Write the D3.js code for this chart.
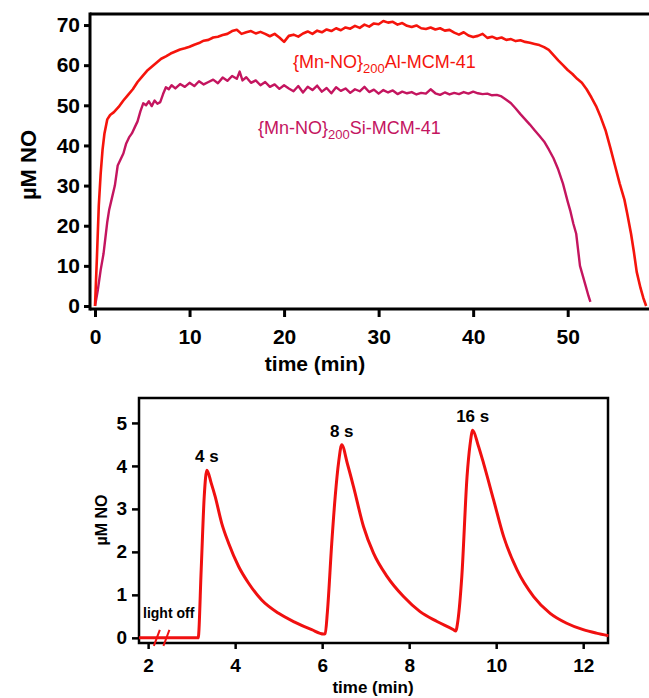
<!DOCTYPE html>
<html>
<head>
<meta charset="utf-8">
<script src="https://cdn.jsdelivr.net/npm/d3@7"></script>
<style>
  body { margin: 0; background: #fff; }
  svg { display: block; font-family: "Liberation Sans", Arial, sans-serif; }
</style>
</head>
<body>
<div id="chart"></div>
<script>
// top panel: NO release of the two materials (time in min, µM NO)
const alSeries = [
  [0,0],[0.2,12],[0.4,25],[0.6,33],[0.8,39],[1.0,43],[1.3,46.5],[1.6,47.6],[2.0,48.3],[2.5,49.6],
  [3.0,51.2],[3.5,52.6],[4.0,54.0],[4.5,55.8],[5.0,57.2],[5.5,58.6],[6.0,59.6],[6.5,60.6],[7.0,61.6],[7.5,62.2],
  [8.0,62.9],[8.5,63.4],[9.0,63.9],[9.5,64.2],[10,64.6],[10.5,65.1],[11,65.5],[11.5,66.1],[12,66.3],[12.5,66.9],
  [13,67.1],[13.5,67.5],[14,67.8],[14.5,68.5],[15,68.8],[15.5,67.8],[16,68.2],[16.5,68.5],[17,67.9],[17.5,68.3],
  [18,67.8],[18.5,67.2],[19,67.8],[19.5,66.9],[20,65.8],[20.5,67.3],[21,67.6],[21.5,67.1],[22,67.9],[22.5,68.4],
  [23,67.8],[23.5,68.6],[24,68.2],[24.5,68.9],[25,68.5],[25.5,69.2],[26,68.7],[26.5,69.4],[27,69.1],[27.5,69.8],
  [28,69.3],[28.5,70.1],[29,69.6],[29.5,70.4],[30,70.2],[30.5,71.0],[31,70.6],[31.5,70.8],[32,70.1],[32.5,70.5],
  [33,69.8],[33.5,69.5],[34,69.9],[34.5,69.2],[35,69.0],[35.5,69.4],[36,68.9],[36.5,69.2],[37,68.6],[37.5,68.8],
  [38,68.1],[38.5,67.6],[39,68.2],[39.5,67.4],[40,67.0],[40.5,67.3],[41,67.8],[41.5,66.8],[42,67.1],[42.5,66.6],
  [43,66.9],[43.5,66.3],[44,66.5],[44.5,66.0],[45,66.2],[45.5,65.8],[46,65.6],[46.5,65.3],[47,65.0],[47.5,64.5],
  [48,63.8],[48.5,62.5],[49,61.2],[49.5,60.0],[50,58.8],[50.5,57.8],[51,56.6],[51.5,55.6],[52,54.0],[52.5,52.0],
  [53,49.8],[53.5,47.0],[54,43.8],[54.5,39.5],[55,35.0],[55.5,30.5],[56,26.5],[56.3,23.0],[56.7,18.0],[57,13.5],
  [57.3,8.5],[57.7,4.5],[58.0,2.0],[58.3,0]
];
const siSeries = [
  [0,0],[0.3,4],[0.6,9],[0.9,13],[1.1,17],[1.3,21],[1.5,24],[1.8,27],[2.1,30],[2.4,35],
  [2.7,36.5],[3.0,38],[3.3,40.5],[3.6,42],[3.9,43],[4.2,44.5],[4.5,46],[4.8,48.5],[5.1,50.5],[5.4,50],
  [5.7,51],[6.0,49.8],[6.3,51.2],[6.6,50.4],[6.9,50.8],[7.2,52.8],[7.5,54.5],[7.8,54.0],[8.1,55.0],[8.5,54.2],
  [9.0,55.3],[9.5,54.6],[10,55.6],[10.5,54.8],[11,56.0],[11.5,55.2],[12,55.8],[12.5,56.4],[13,55.5],[13.5,56.9],
  [14,56.1],[14.5,57.3],[15,56.6],[15.3,58.4],[15.6,56.2],[16,57.0],[16.5,55.6],[17,56.2],[17.5,55.0],[18,55.8],
  [18.5,54.6],[19,55.2],[19.5,54.1],[20,55.0],[20.5,54.2],[21,53.5],[21.5,54.8],[22,53.2],[22.5,54.6],[23,53.8],
  [23.5,54.9],[24,53.4],[24.5,54.3],[25,53.0],[25.5,54.5],[26,53.6],[26.5,54.2],[27,53.1],[27.5,54.0],[28,53.5],
  [28.5,54.6],[29,53.3],[29.5,53.9],[30,52.9],[30.5,53.8],[31,53.2],[31.5,53.7],[32,52.8],[32.5,53.4],[33,53.0],
  [33.5,53.3],[34,52.7],[34.5,53.1],[35,52.9],[35.5,54.0],[36,53.0],[36.5,52.6],[37,53.2],[37.5,52.7],[38,53.1],
  [38.5,52.8],[39,53.3],[39.5,52.9],[40,53.4],[40.5,53.0],[41,52.8],[41.5,52.9],[42,52.5],[42.5,52.6],[43,52.2],
  [43.5,51.4],[44,50.5],[44.5,49.2],[45,47.8],[45.5,46.5],[46,45.2],[46.5,43.8],[47,42.4],[47.5,41.0],[48,39.0],
  [48.5,36.8],[49,34.0],[49.5,30.5],[50,26.0],[50.3,23.5],[50.6,20.5],[50.9,18.0],[51.1,14.0],[51.3,10.0],[51.6,7.5],
  [51.9,5.0],[52.2,2.5],[52.4,1.0]
];
const topXTicks = [0, 10, 20, 30, 40, 50];
const topYTicks = [0, 10, 20, 30, 40, 50, 60, 70];
const seriesLabels = [
  { name: "Al", pre: "{Mn-NO}", sub: "200", post: "Al-MCM-41", color: "#f5140c" },
  { name: "Si", pre: "{Mn-NO}", sub: "200", post: "Si-MCM-41", color: "#c4155f" }
];

// bottom panel: light pulses
const pulseSeries = [
  [1.79,0],[3.15,0],[3.22,1.6],[3.29,3.3],[3.35,3.9],[3.45,3.6],[3.54,3.29],[3.69,2.67],[3.85,2.2],[4.08,1.66],
  [4.31,1.27],[4.61,0.88],[5.0,0.57],[5.38,0.36],[5.76,0.19],[6.03,0.09],[6.07,0.1],[6.12,0.6],[6.22,2.2],[6.30,3.29],
  [6.38,4.1],[6.45,4.49],[6.58,4.05],[6.72,3.52],[6.95,2.59],[7.18,1.97],[7.49,1.43],[7.87,0.96],[8.25,0.61],[8.64,0.38],
  [9.02,0.19],[9.07,0.16],[9.12,0.4],[9.21,1.43],[9.33,3.75],[9.40,4.5],[9.46,4.83],[9.58,4.5],[9.71,4.06],[9.94,3.21],
  [10.17,2.36],[10.48,1.58],[10.86,0.96],[11.24,0.57],[11.62,0.34],[12.0,0.19],[12.3,0.11],[12.58,0.05]
];
const pulseLabels = [
  { t: 3.35, v: 3.9, text: "4 s" },
  { t: 6.45, v: 4.49, text: "8 s" },
  { t: 9.46, v: 4.83, text: "16 s" }
];
const breakMarks = [2.2, 2.42];
const botXTicks = [2, 4, 6, 8, 10, 12];
const botYTicks = [0, 1, 2, 3, 4, 5];

const W = 649, H = 698;
const svg = d3.select("#chart").append("svg")
  .attr("width", W)
  .attr("height", H);

// ---------- top panel ----------
const box1 = { left: 90, right: 649, top: 14, bottom: 309 };
const x1 = d3.scaleLinear().domain([-0.53, 58.6]).range([box1.left, box1.right]);
const y1 = d3.scaleLinear().domain([-0.75, 72.75]).range([box1.bottom, box1.top]);

const line1 = d3.line().x(d => x1(d[0])).y(d => y1(d[1]));

const g1 = svg.append("g");
g1.append("path")
  .datum(siSeries)
  .attr("fill", "none")
  .attr("stroke", seriesLabels[1].color)
  .attr("stroke-width", 2.4)
  .attr("stroke-linejoin", "round")
  .attr("d", line1);
g1.append("path")
  .datum(alSeries)
  .attr("fill", "none")
  .attr("stroke", seriesLabels[0].color)
  .attr("stroke-width", 2.6)
  .attr("stroke-linejoin", "round")
  .attr("d", line1);

// top border (plot is cut at the right edge)
g1.append("line")
  .attr("x1", box1.left).attr("x2", box1.right)
  .attr("y1", box1.top).attr("y2", box1.top)
  .attr("stroke", "#000").attr("stroke-width", 3);

const xAxis1 = g1.append("g")
  .attr("transform", "translate(0," + box1.bottom + ")")
  .call(d3.axisBottom(x1).tickValues(topXTicks).tickSize(8).tickPadding(12).tickSizeOuter(0));
const yAxis1 = g1.append("g")
  .attr("transform", "translate(" + box1.left + ",0)")
  .call(d3.axisLeft(y1).tickValues(topYTicks).tickSize(6).tickPadding(4).tickSizeOuter(0));

[xAxis1, yAxis1].forEach(a => {
  a.select(".domain").attr("stroke", "#000").attr("stroke-width", 3);
  a.selectAll(".tick line").attr("stroke", "#000").attr("stroke-width", 3);
  a.selectAll(".tick text")
    .attr("fill", "#000")
    .style("font-size", "21px")
    .style("font-weight", "bold");
});
xAxis1.select(".domain").attr("d", "M" + box1.left + ",0H" + box1.right);
yAxis1.select(".domain").attr("d", "M0," + (box1.top - 1.5) + "V" + (box1.bottom + 1.5));

g1.append("text")
  .attr("x", 315).attr("y", 371)
  .attr("text-anchor", "middle")
  .style("font-size", "21px").style("font-weight", "bold")
  .text("time (min)");
g1.append("text")
  .attr("transform", "translate(36,165) rotate(-90)")
  .attr("text-anchor", "middle")
  .style("font-size", "22px").style("font-weight", "bold")
  .text("µM NO");

// series labels
const labelPos = [[293, 68], [258, 134]];
seriesLabels.forEach((s, i) => {
  const t = g1.append("text")
    .attr("x", labelPos[i][0]).attr("y", labelPos[i][1])
    .attr("fill", s.color)
    .style("font-size", "18px");
  t.append("tspan").text(s.pre);
  t.append("tspan").attr("dy", 5).style("font-size", "13px").text(s.sub);
  t.append("tspan").attr("dy", -5).text(s.post);
});

// ---------- bottom panel ----------
const box2 = { left: 139, right: 608, top: 398, bottom: 643 };
const x2 = d3.scaleLinear().domain([1.79, 12.57]).range([box2.left, box2.right]);
const y2 = d3.scaleLinear().domain([-0.12, 5.58]).range([box2.bottom, box2.top]);

const g2 = svg.append("g");
g2.append("rect")
  .attr("x", box2.left).attr("y", box2.top)
  .attr("width", box2.right - box2.left).attr("height", box2.bottom - box2.top)
  .attr("fill", "none").attr("stroke", "#000").attr("stroke-width", 2.5);

g2.append("path")
  .datum(pulseSeries)
  .attr("fill", "none")
  .attr("stroke", "#f01010")
  .attr("stroke-width", 3)
  .attr("stroke-linejoin", "round")
  .attr("d", d3.line().x(d => x2(d[0])).y(d => y2(d[1])).curve(d3.curveMonotoneX));

// break marks on the baseline
breakMarks.forEach(t => {
  g2.append("line")
    .attr("x1", x2(t) - 3).attr("y1", y2(0) + 8)
    .attr("x2", x2(t) + 3).attr("y2", y2(0) - 8)
    .attr("stroke", "#f01010").attr("stroke-width", 2);
});
g2.append("text")
  .attr("x", 143).attr("y", 618)
  .style("font-size", "14px").style("font-weight", "bold")
  .text("light off");

pulseLabels.forEach(p => {
  g2.append("text")
    .attr("x", x2(p.t)).attr("y", y2(p.v) - 8)
    .attr("text-anchor", "middle")
    .style("font-size", "17px").style("font-weight", "bold")
    .text(p.text);
});

const xAxis2 = g2.append("g")
  .attr("transform", "translate(0," + box2.bottom + ")")
  .call(d3.axisBottom(x2).tickValues(botXTicks).tickSize(6).tickPadding(10).tickSizeOuter(0));
const yAxis2 = g2.append("g")
  .attr("transform", "translate(" + box2.left + ",0)")
  .call(d3.axisLeft(y2).tickValues(botYTicks).tickFormat(d3.format("d")).tickSize(7).tickPadding(5).tickSizeOuter(0));

[xAxis2, yAxis2].forEach(a => {
  a.select(".domain").remove();
  a.selectAll(".tick line").attr("stroke", "#000").attr("stroke-width", 2.5);
  a.selectAll(".tick text")
    .attr("fill", "#000")
    .style("font-size", "19px")
    .style("font-weight", "bold");
});

g2.append("text")
  .attr("x", 373).attr("y", 693)
  .attr("text-anchor", "middle")
  .style("font-size", "17px").style("font-weight", "bold")
  .text("time (min)");
g2.append("text")
  .attr("transform", "translate(107,520) rotate(-90)")
  .attr("text-anchor", "middle")
  .style("font-size", "16px").style("font-weight", "bold")
  .text("µM NO");
</script>
</body>
</html>
